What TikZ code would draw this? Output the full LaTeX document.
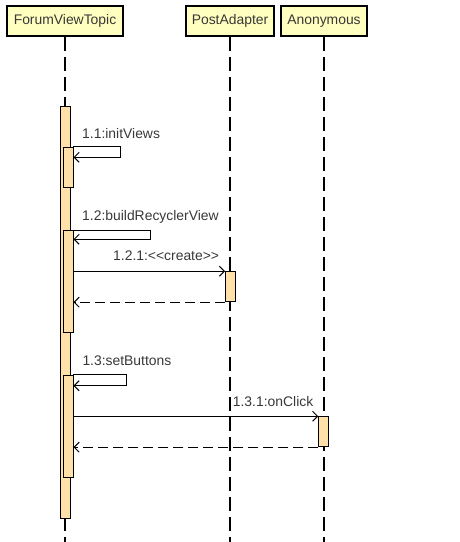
\documentclass[tikz,border=0pt]{standalone}
\usepackage{fontspec}
\setmainfont{Liberation Sans}
\usetikzlibrary{arrows.meta}
\definecolor{hdrfill}{rgb}{1.,1.,0.75}
\definecolor{actfill}{rgb}{1.,0.878,0.659}
\definecolor{txtgray}{rgb}{0.22,0.22,0.22}

\begin{document}
\begin{tikzpicture}[line cap=butt,line join=miter,>={Straight Barb[length=5pt,width=10pt]},x=1pt,y=-1pt,
  hdr/.style={draw,line width=1.2pt,fill=hdrfill,text=txtgray,inner sep=0pt,minimum height=30pt,font=\fontsize{13.9}{16}\selectfont},
  act/.style={draw,line width=0.9pt,fill=actfill,inner sep=0pt,minimum width=10pt},
  lifeline/.style={line width=1.1pt,dash pattern=on 14pt off 6pt},
  msg/.style={line width=1pt,->},
  ret/.style={line width=1pt,->,dash pattern=on 10pt off 5pt},
  lbl/.style={text=txtgray,inner sep=0pt,anchor=base west,font=\fontsize{13.9}{16}\selectfont}]
\useasboundingbox (0,0) rectangle (460,542);
% lifelines
\node[hdr,minimum width=116pt] (fvt) at (65,21) {ForumViewTopic};
\node[hdr,minimum width=88pt] (pa) at (230,21) {PostAdapter};
\node[hdr,minimum width=86pt] (anon) at (324,21) {Anonymous};
\coordinate (fvtend) at (65,542);
\coordinate (paend) at (230,542);
\coordinate (anonend) at (324,542);
\draw[lifeline] (fvt.south) -- (fvtend);
\draw[lifeline] (pa.south) -- (paend);
\draw[lifeline] (anon.south) -- (anonend);
% activations
\node[act,minimum height=412pt] (a0) at (65,312) {};
\node[act,minimum height=40pt] (a1) at (68,167) {};
\node[act,minimum height=101.6pt] (a2) at (68,281.5) {};
\node[act,minimum height=30pt] (a21) at (230.5,286.7) {};
\node[act,minimum height=102.3pt] (a3) at (68,426.2) {};
\node[act,minimum height=30pt] (a31) at (323.7,431.7) {};
% 1.1
\coordinate (c11) at (120.7,157.3);
\draw[msg] (a1.north east) -| (c11) -- (c11 -| a1.east);
\node[lbl] (l11) at (82,138.3) {1.1:initViews};
% 1.2
\coordinate (c12) at (150,239.3);
\draw[msg] (a2.north east) -| (c12) -- (c12 -| a2.east);
\node[lbl] (l12) at (82,220) {1.2:buildRecyclerView};
\draw[msg] (a2.east |- a21.north) -- (a21.north west);
\node[lbl] (l121) at (113,260.5) {1.2.1:{<}{<}create{>}{>}};
\draw[ret] (a21.south west) -- (a21.south west -| a2.east);
% 1.3
\coordinate (c13) at (126.7,385.7);
\draw[msg] (a3.north east) -| (c13) -- (c13 -| a3.east);
\node[lbl] (l13) at (82.3,365) {1.3:setButtons};
\draw[msg] (a3.east |- a31.north) -- (a31.north west);
\node[lbl] (l131) at (232.7,406) {1.3.1:onClick};
\draw[ret] (a31.south west) -- (a31.south west -| a3.east);
\end{tikzpicture}
\end{document}
